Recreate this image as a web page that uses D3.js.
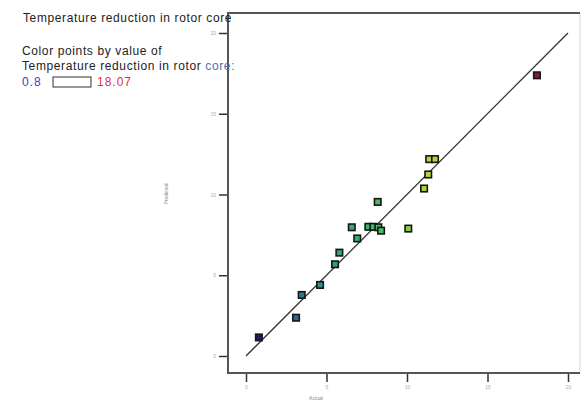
<!DOCTYPE html>
<html>
<head>
<meta charset="utf-8">
<script src="https://cdn.jsdelivr.net/npm/d3@7"></script>
<style>
  html, body { margin: 0; padding: 0; background: #fff; }
  svg { display: block; font-family: "Liberation Sans", Arial, sans-serif; }
</style>
</head>
<body>
<svg id="chart" width="585" height="403"></svg>
<script>
// Predicted vs. actual runs for temperature reduction in the rotor core
const actual    = [0.80, 3.11, 3.46, 4.60, 5.53, 5.80, 6.57, 6.91, 7.60, 7.91, 8.22, 8.39, 8.18, 10.08, 11.06, 11.32, 11.38, 11.74, 18.07];
const predicted = [1.15, 2.37, 3.78, 4.40, 5.68, 6.40, 7.97, 7.28, 8.00, 8.00, 7.97, 7.76, 9.54, 7.89, 10.37, 11.24, 12.19, 12.19, 17.38];
const xTicks = [0, 5, 10, 15, 20];
const yTicks = [0, 5, 10, 15, 20];
const colorMin = 0.8, colorMax = 18.07;

const svg = d3.select("#chart");

const x = d3.scaleLinear().domain([0, 20]).range([246, 568]);
const y = d3.scaleLinear().domain([0, 20]).range([356, 33]);

// colour ramp used by the design software: blue -> cyan -> green -> yellow -> red
const color = d3.scaleLinear()
  .domain([colorMin, 4, 7.5, 11.5, colorMax])
  .range(["#1c1c6e", "#2f8a9a", "#2fb86a", "#b8d83a", "#8a1838"]);

const frame = { left: 228, top: 13, right: 580, bottom: 373 };

// right border (light)
svg.append("line")
  .attr("x1", frame.right).attr("x2", frame.right)
  .attr("y1", frame.top).attr("y2", frame.bottom)
  .attr("stroke", "#d8d8d8").attr("stroke-width", 1);

// top, left and bottom borders
svg.append("path")
  .attr("d", `M${frame.right},${frame.top}H${frame.left}V${frame.bottom}H${frame.right}`)
  .attr("fill", "none").attr("stroke", "#555").attr("stroke-width", 2);

// x axis
const xAxis = svg.append("g")
  .attr("transform", `translate(0,${frame.bottom + 1})`)
  .call(d3.axisBottom(x).tickValues(xTicks).tickSize(8).tickPadding(3).tickFormat(d3.format("d")));
xAxis.select(".domain").remove();
xAxis.selectAll(".tick line").attr("stroke", "#333").attr("stroke-width", 1.5);
xAxis.selectAll(".tick text").attr("font-size", 5).attr("fill", "#aaa");

// y axis
const yAxis = svg.append("g")
  .attr("transform", `translate(${frame.left - 1},0)`)
  .call(d3.axisLeft(y).tickValues(yTicks).tickSize(8).tickPadding(3).tickFormat(d3.format("d")));
yAxis.select(".domain").remove();
yAxis.selectAll(".tick line").attr("stroke", "#333").attr("stroke-width", 1.5);
yAxis.selectAll(".tick text").attr("font-size", 5).attr("fill", "#aaa");

// axis titles
svg.append("text")
  .attr("x", 316).attr("y", 400)
  .attr("text-anchor", "middle").attr("font-size", 5).attr("fill", "#888")
  .text("Actual");
svg.append("text")
  .attr("transform", "translate(168,194) rotate(-90)")
  .attr("text-anchor", "middle").attr("font-size", 5).attr("fill", "#888")
  .text("Predicted");

// 45-degree reference line
svg.append("line")
  .attr("x1", x(0)).attr("y1", y(0))
  .attr("x2", x(20)).attr("y2", y(20))
  .attr("stroke", "#333").attr("stroke-width", 1.3);

// run points
const s = 6.5;
svg.append("g").selectAll("rect")
  .data(actual.map((a, i) => ({ a, p: predicted[i] })))
  .join("rect")
  .attr("x", d => x(d.a) - s / 2)
  .attr("y", d => y(d.p) - s / 2)
  .attr("width", s).attr("height", s)
  .attr("fill", d => color(d.a))
  .attr("stroke", "#151515").attr("stroke-width", 1.6);

// title and colour legend
const ls = 0.62;
svg.append("text")
  .attr("x", 23).attr("y", 22)
  .attr("font-size", 12).attr("fill", "#222")
  .attr("letter-spacing", ls)
  .text("Temperature reduction in rotor core");

svg.append("text")
  .attr("x", 22).attr("y", 55)
  .attr("font-size", 12).attr("fill", "#222")
  .attr("letter-spacing", ls)
  .text("Color points by value of");

const legendLine = svg.append("text")
  .attr("x", 22).attr("y", 70)
  .attr("font-size", 12).attr("fill", "#222")
  .attr("letter-spacing", ls);
legendLine.append("tspan").text("Temperature reduction in rotor ");
legendLine.append("tspan").attr("fill", "#4d6fb0").text("core:");

svg.append("text")
  .attr("x", 22).attr("y", 86)
  .attr("font-size", 12).attr("fill", "#3b3bd0")
  .attr("letter-spacing", 1)
  .text(String(colorMin));
svg.append("rect")
  .attr("x", 53).attr("y", 77).attr("width", 38).attr("height", 10)
  .attr("fill", "#fff").attr("stroke", "#333").attr("stroke-width", 1);
svg.append("text")
  .attr("x", 97).attr("y", 86)
  .attr("font-size", 12).attr("fill", "#e03030")
  .attr("letter-spacing", 1)
  .text(String(colorMax));
</script>
</body>
</html>
